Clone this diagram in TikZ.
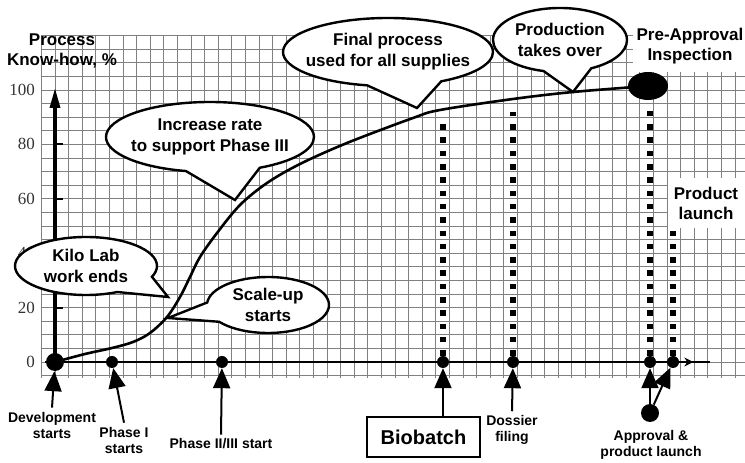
\documentclass[tikz,border=0pt]{standalone}
\usepackage{fontspec}
\setmainfont{Liberation Sans}
\newfontfamily\numfont{Liberation Serif}
\usepackage{tikz}
\usetikzlibrary{arrows.meta,shapes.callouts,shapes.geometric,decorations.markings}
\definecolor{gridgray}{gray}{0.5}

\tikzset{
    gridline/.style={gridgray, line width=0.8pt},
    bubble/.style={ellipse callout, draw=black, fill=white, line width=2.4pt,
        inner xsep=-10pt, inner ysep=0pt, align=center, callout pointer arc=42,
        font=\fontsize{17}{21}\selectfont\bfseries},
    bigtext/.style={align=center, font=\fontsize{17}{20}\selectfont\bfseries},
    phase/.style={align=center, inner sep=4pt, font=\fontsize{14}{16}\selectfont\bfseries},
    ynum/.style={anchor=east, inner sep=0pt, text=black!80, font=\fontsize{17}{17}\selectfont\numfont},
    axisdot/.style={circle, fill=black, inner sep=0pt, minimum size=12pt},
    uparrow/.style={-{Triangle[length=20pt,width=17pt]}, line width=2pt},
    dotline/.style={line width=5.5pt, dash pattern=on 5.5pt off 7.8pt},
}

\begin{document}
\begin{tikzpicture}[x=1pt,y=1pt]
    \useasboundingbox (0,0) rectangle (745,463);
    % grid paper
    \foreach \k in {-1,...,50}
        \draw[gridline] ({55+13.6*\k},85) -- ({55+13.6*\k},428);
    \foreach \j in {-1,...,24}
        \draw[gridline] (41,{101+13.6*\j}) -- (745,{101+13.6*\j});

    % labels on white
    \node[bigtext, fill=white, minimum width=112pt, minimum height=52pt] (pai) at (690,417) {Pre-Approval\\Inspection};
    \node[bigtext, fill=white, minimum width=77pt, minimum height=50pt] (launch) at (706,260) {Product\\launch};

    % know-how curve
    \node[ellipse, fill=black, inner sep=0pt, minimum width=40pt, minimum height=28pt] (paidot) at (648,377) {};
    \draw[line width=2.6pt] plot[smooth, tension=0.55] coordinates {(55,101) (85,109) (112,115) (133,121) (150,130) (167,146) (180,166) (190,186) (200,206) (217,230) (240,258) (267,280) (300,299) (347,320) (413,345) (440,353) (513,364) (573,371) (paidot)};

    % axes
    \node[axisdot, minimum size=18pt] (devdot) at (55,101) {};
    \draw[line width=3.3pt, -{Triangle[length=20pt,width=10pt]}] (devdot.center) -- (55,375);
    \draw[line width=2.3pt, postaction={decorate},
        decoration={markings, mark=at position 0.975 with {\arrow{Stealth[length=9pt,width=9pt]}}}] (45,101) -- (710,101);
    \foreach \v in {20,40,60,80}
        \draw[line width=2pt] (55,{101+2.72*\v}) -- ++(8,0);
    \foreach \v in {0,20,...,100}
        \node[ynum] (y\v) at (35,{101+2.72*\v}) {\v};
    \node[bigtext] (ylabel) at (62,412) {Process\\Know-how, \%};

    % milestones on the time axis
    \node[axisdot] (ph1dot) at (112,101) {};
    \node[axisdot] (ph23dot) at (222,101) {};
    \node[axisdot] (bbdot) at (443,101) {};
    \node[axisdot] (dosdot) at (513,101) {};
    \node[axisdot] (appdot) at (650,101) {};
    \node[axisdot] (lchdot) at (673,101) {};

    \coordinate (bbtop) at (443,345);
    \coordinate (dostop) at (513,351);
    \coordinate (apptop) at (650,355);
    \coordinate (lchtop) at (673,233);
    \draw[dotline] (bbdot) -- (bbtop);
    \draw[dotline] (dosdot) -- (dostop);
    \draw[dotline] (appdot) -- (apptop);
    \draw[dotline] (lchdot) -- (lchtop);

    \node[phase] (devlbl) at (52,38) {Development\\starts};
    \node[phase] (ph1lbl) at (124,23) {Phase I\\starts};
    \node[phase] (ph23lbl) at (221,19) {Phase II/III start};
    \node[draw, line width=2pt, minimum width=113pt, minimum height=40pt,
        font=\fontsize{20}{20}\selectfont\bfseries] (biobox) at (423.5,26) {Biobatch};
    \node[phase] (doslbl) at (512,33) {Dossier\\filing};
    \node[phase] (applbl) at (651,18) {Approval \&\\product launch};
    \node[axisdot, minimum size=18pt] (apprdot) at (650,50) {};

    \draw[uparrow] (devlbl.north) -- (devdot);
    \draw[uparrow] (ph1lbl.north) -- (ph1dot);
    \draw[uparrow] (ph23lbl.north) -- (ph23dot);
    \draw[uparrow] (biobox.north -| bbdot) -- (bbdot);
    \draw[uparrow] (doslbl.north) -- (dosdot);
    \draw[uparrow] (apprdot) -- (appdot);
    \draw[uparrow] (apprdot) -- (lchdot);

    % callouts
    \coordinate (tipkilo) at (168,166);
    \coordinate (tipscale) at (168,145);
    \coordinate (tipinc) at (235,263);
    \coordinate (tipfinal) at (417,355);
    \coordinate (tipprod) at (573,371);
    \node[bubble, minimum width=142pt, minimum height=58pt, callout absolute pointer={(tipkilo)}] (kilolab) at (86,197) {Kilo Lab\\work ends};
    \node[bubble, minimum width=122pt, minimum height=56pt, callout absolute pointer={(tipscale)}] (scaleup) at (268,158) {Scale-up\\starts};
    \node[bubble, minimum width=208pt, minimum height=70pt, callout absolute pointer={(tipinc)}] (incrate) at (210,326) {Increase rate\\to support Phase III};
    \node[bubble, minimum width=210pt, minimum height=68pt, callout absolute pointer={(tipfinal)}] (finalproc) at (388,411) {Final process\\used for all supplies};
    \node[bubble, minimum width=134pt, minimum height=64pt, callout absolute pointer={(tipprod)}] (prodtakes) at (560,423) {Production\\takes over};
\end{tikzpicture}
\end{document}
